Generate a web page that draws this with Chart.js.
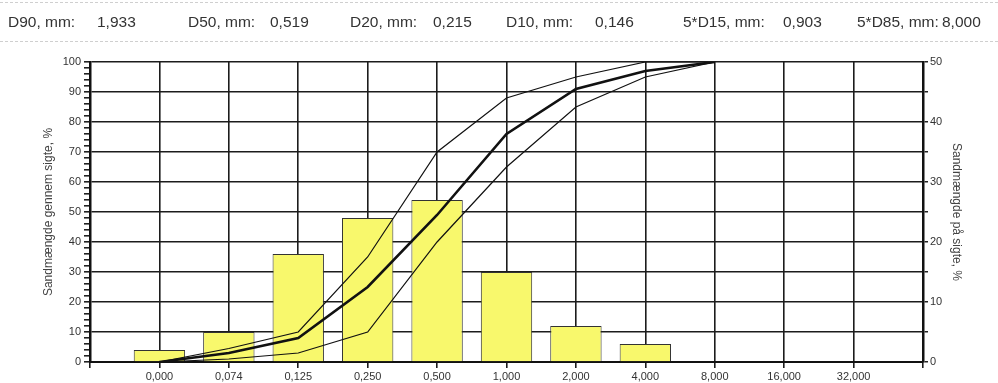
<!DOCTYPE html>
<html>
<head>
<meta charset="utf-8">
<title>Sigteanalyse</title>
<script src="https://cdn.jsdelivr.net/npm/chart.js@4/dist/chart.umd.min.js"></script>
<style>
    body { margin: 0; background: #fff; }
    #wrap { position: relative; width: 998px; height: 383px; overflow: hidden; }
    #header {
        position: absolute; left: 0; top: 2px; width: 998px; height: 38px;
        border-top: 1px dashed #cfcfcf; border-bottom: 1px dashed #cfcfcf;
        font-family: "Liberation Sans", Arial, sans-serif; font-size: 15.5px; color: #333;
    }
    #header span { position: absolute; top: 10px; white-space: nowrap; line-height: 18px; }
    canvas { position: absolute; left: 0; top: 0; }
</style>
</head>
<body>
<div id="wrap">
    <canvas id="chart" width="998" height="383"></canvas>
    <div id="header"></div>
</div>
<script>
// header values
const headerLabels = ['D90, mm:', 'D50, mm:', 'D20, mm:', 'D10, mm:', '5*D15, mm:', '5*D85, mm:'];
const headerValues = ['1,933', '0,519', '0,215', '0,146', '0,903', '8,000'];

// sieve sizes (x axis)
const sieveLabels = ['0,000', '0,074', '0,125', '0,250', '0,500', '1,000', '2,000', '4,000', '8,000', '16,000', '32,000'];

// amount retained on each sieve, % (right axis)
const retained = [2, 5, 18, 24, 27, 15, 6, 3];

// cumulative passing, % (left axis)
const passing = [0, 3, 8, 25, 49, 76, 91, 97, 100];
const upperLimit = [0, 4.5, 10, 35, 70, 88, 95, 100, 100];
const lowerLimit = [0, 1, 3, 10, 40, 65, 85, 95, 100];

// left edge of each header text, px
const labelX = [8, 188, 350, 506, 683, 857];
const valueX = [97, 270, 433, 595, 783, 942];

window.onload = function () {
    buildHeader();
    drawChart();
}


function buildHeader() {
    let header = document.getElementById('header');
    headerLabels.forEach(function (label, i) {
        let l = document.createElement('span');
        l.textContent = label;
        l.style.left = labelX[i] + 'px';
        header.appendChild(l);

        let v = document.createElement('span');
        v.textContent = headerValues[i];
        v.style.left = valueX[i] + 'px';
        header.appendChild(v);
    });
}


function toPoints(values) {
    // sieve i sits at position i + 1 on the x scale
    return values.map(function (v, i) {
        return { x: i + 1, y: v };
    });
}


function drawChart() {
    Chart.defaults.font.family = '"Liberation Sans", Arial, sans-serif';
    Chart.defaults.color = '#333';

    const gridColor = '#1c1c1c';
    const lineColor = '#111';

    let ctx = document.getElementById('chart').getContext('2d');
    new Chart(ctx, {
        type: 'bar',
        data: {
            datasets: [
                {
                    type: 'line',
                    data: toPoints(passing),
                    yAxisID: 'y',
                    borderColor: lineColor,
                    borderWidth: 2.6,
                    pointRadius: 0,
                    tension: 0,
                    order: 1
                },
                {
                    type: 'line',
                    data: toPoints(upperLimit),
                    yAxisID: 'y',
                    borderColor: lineColor,
                    borderWidth: 1.2,
                    pointRadius: 0,
                    tension: 0,
                    order: 1
                },
                {
                    type: 'line',
                    data: toPoints(lowerLimit),
                    yAxisID: 'y',
                    borderColor: lineColor,
                    borderWidth: 1.2,
                    pointRadius: 0,
                    tension: 0,
                    order: 1
                },
                {
                    type: 'bar',
                    data: toPoints(retained),
                    yAxisID: 'y2',
                    backgroundColor: '#f8f86c',
                    borderColor: '#333',
                    borderWidth: 1,
                    barPercentage: 0.74,
                    categoryPercentage: 1,
                    order: 2
                }
            ]
        },
        options: {
            responsive: false,
            animation: false,
            layout: { padding: { top: 62, left: 0, right: 0, bottom: 0 } },
            plugins: {
                legend: { display: false },
                tooltip: { enabled: false }
            },
            scales: {
                x: {
                    type: 'linear',
                    min: 0,
                    max: 12,
                    offset: false,
                    afterFit: function (s) { s.height = 21; },
                    ticks: {
                        stepSize: 1,
                        autoSkip: false,
                        maxRotation: 0,
                        padding: 2,
                        font: { size: 11 },
                        callback: function (v) { return sieveLabels[v - 1] || ''; }
                    },
                    grid: { color: gridColor, lineWidth: 1.6, tickLength: 6, offset: false },
                    border: { color: '#111', width: 2 }
                },
                y: {
                    position: 'left',
                    min: 0,
                    max: 100,
                    afterFit: function (s) { s.width = 90; },
                    ticks: {
                        stepSize: 2,
                        autoSkip: false,
                        padding: 3,
                        font: { size: 11 },
                        callback: function (v) { return v % 10 === 0 ? v : ''; }
                    },
                    grid: {
                        color: function (c) {
                            return c.tick && c.tick.value % 10 === 0 ? gridColor : 'rgba(0,0,0,0)';
                        },
                        tickColor: '#222',
                        lineWidth: 1.6,
                        tickLength: 6
                    },
                    border: { color: '#111', width: 2.5 },
                    title: {
                        display: true,
                        text: 'Sandmængde gennem sigte, %',
                        color: '#444',
                        font: { size: 12 },
                        padding: { top: 41, bottom: 0 }
                    }
                },
                y2: {
                    position: 'right',
                    min: 0,
                    max: 50,
                    afterFit: function (s) { s.width = 75; },
                    ticks: {
                        stepSize: 5,
                        autoSkip: false,
                        padding: 2,
                        font: { size: 11 },
                        callback: function (v) { return v % 10 === 0 ? v : ''; }
                    },
                    grid: { drawOnChartArea: false, tickColor: '#222', lineWidth: 1.5, tickLength: 5 },
                    border: { color: '#111', width: 2.5 },
                    title: {
                        display: true,
                        text: 'Sandmængde på sigte, %',
                        color: '#444',
                        font: { size: 12 },
                        padding: { top: 34, bottom: 0 }
                    }
                }
            }
        }
    });
}
</script>
</body>
</html>
